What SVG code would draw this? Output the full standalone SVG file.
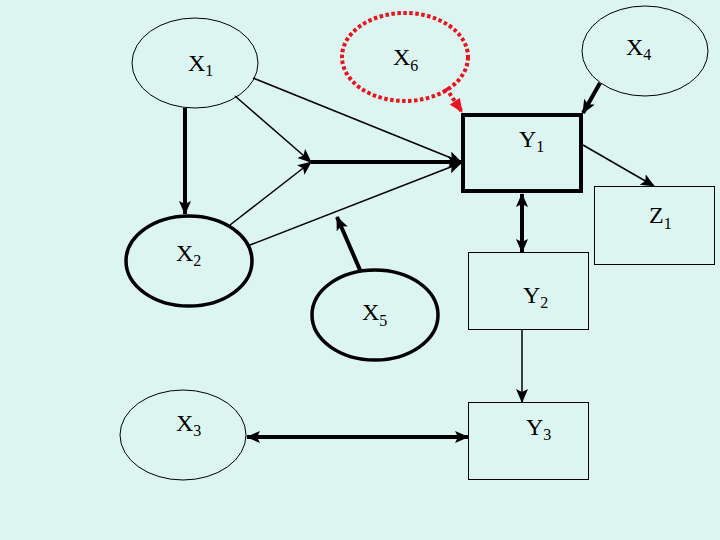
<svg xmlns="http://www.w3.org/2000/svg" width="720" height="540" viewBox="0 0 720 540">
<style>
.bg{fill:#DCF5F1}
.n{fill:none;stroke:#000;stroke-width:1}
.nk{fill:none;stroke:#000;stroke-width:3.5}
.red{fill:none;stroke:#E8141E;stroke-width:4;stroke-dasharray:3.5 2.5}
.t{font-family:"Liberation Serif",serif;font-size:24px;fill:#000}
.s{font-size:16px}
.c{fill:none;stroke:#000;stroke-width:1.5}
.ck{fill:none;stroke:#000;stroke-width:4}
</style>
<defs>
<marker id="a" markerUnits="userSpaceOnUse" markerWidth="14" markerHeight="12" viewBox="0 0 14 12" refX="13" refY="6" orient="auto"><path d="M0,0 L14,6 L0,12 L3,6 Z" fill="#000"/></marker>
<marker id="as" markerUnits="userSpaceOnUse" markerWidth="14" markerHeight="12" viewBox="0 0 14 12" refX="1" refY="6" orient="auto"><path d="M14,0 L0,6 L14,12 L11,6 Z" fill="#000"/></marker>
<marker id="ar" markerUnits="userSpaceOnUse" markerWidth="14" markerHeight="12" viewBox="0 0 14 12" refX="13" refY="6" orient="auto"><path d="M0,0 L14,6 L0,12 Z" fill="#E8141E"/></marker>
</defs>
<rect class="bg" x="0" y="0" width="720" height="540"/>
<g id="connectors">
<line class="ck" x1="185" y1="108" x2="185" y2="214" marker-end="url(#a)"/>
<line class="c" x1="253" y1="78" x2="461" y2="162" marker-end="url(#a)"/>
<line class="c" x1="235" y1="96" x2="311" y2="162" marker-end="url(#a)"/>
<line class="c" x1="230" y1="225" x2="311" y2="162" marker-end="url(#a)"/>
<line class="ck" x1="311" y1="162" x2="461" y2="162" marker-end="url(#a)"/>
<line class="c" x1="250" y1="245" x2="461" y2="163" marker-end="url(#a)"/>
<line class="ck" x1="360" y1="270" x2="337" y2="217" marker-end="url(#a)"/>
<line class="red" x1="446" y1="88" x2="462" y2="112" marker-end="url(#ar)"/>
<line class="ck" x1="600" y1="83" x2="583" y2="113" marker-end="url(#a)"/>
<line class="c" x1="583" y1="145" x2="654" y2="186" marker-end="url(#a)"/>
<line class="ck" x1="522" y1="194" x2="522" y2="252" marker-start="url(#as)" marker-end="url(#a)"/>
<line class="c" x1="522" y1="329" x2="522" y2="402" marker-end="url(#a)"/>
<line class="ck" x1="247" y1="437" x2="468" y2="437" marker-start="url(#as)" marker-end="url(#a)"/>
</g>
<g id="X1"><ellipse class="n" cx="195" cy="63" rx="63" ry="45"/><text class="t" x="188" y="71">X<tspan class="s" dy="5">1</tspan></text></g>
<g id="X6"><ellipse class="red" cx="405" cy="57" rx="63" ry="44"/><text class="t" x="393" y="65">X<tspan class="s" dy="6">6</tspan></text></g>
<g id="X4"><ellipse class="n" cx="645" cy="51" rx="63" ry="45"/><text class="t" x="626" y="55">X<tspan class="s" dy="5">4</tspan></text></g>
<g id="Y1"><rect x="463" y="115" width="118" height="76" fill="none" stroke="#000" stroke-width="4"/><text class="t" x="519" y="147">Y<tspan class="s" dy="5">1</tspan></text></g>
<g id="Z1"><rect class="n" x="594.5" y="186.5" width="120" height="78"/><text class="t" x="649" y="223">Z<tspan class="s" dy="6">1</tspan></text></g>
<g id="X2"><ellipse class="nk" cx="189" cy="261" rx="63" ry="45"/><text class="t" x="176" y="261">X<tspan class="s" dy="5">2</tspan></text></g>
<g id="X5"><ellipse class="nk" cx="375" cy="315" rx="63" ry="45"/><text class="t" x="362" y="320">X<tspan class="s" dy="6">5</tspan></text></g>
<g id="Y2"><rect class="n" x="468.5" y="252.5" width="120" height="77"/><text class="t" x="523" y="303">Y<tspan class="s" dy="5">2</tspan></text></g>
<g id="X3"><ellipse class="n" cx="183" cy="435" rx="63" ry="45"/><text class="t" x="176" y="431">X<tspan class="s" dy="5">3</tspan></text></g>
<g id="Y3"><rect class="n" x="468.5" y="402.5" width="120" height="77"/><text class="t" x="526" y="435">Y<tspan class="s" dy="5">3</tspan></text></g>
</svg>
